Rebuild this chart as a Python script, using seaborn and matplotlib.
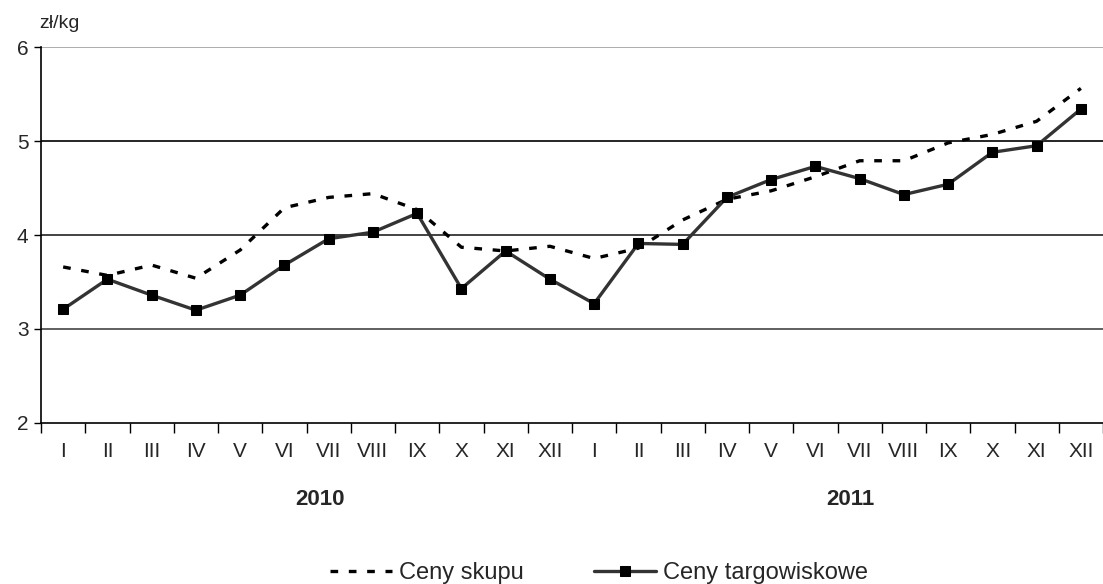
import matplotlib
matplotlib.use("Agg")
import matplotlib.pyplot as plt
import matplotlib.transforms as mtransforms
import seaborn as sns
import pandas as pd
import numpy as np

months = ["I", "II", "III", "IV", "V", "VI", "VII", "VIII", "IX", "X", "XI", "XII"] * 2
years = ["2010", "2011"]
ceny_skupu = [3.66, 3.57, 3.68, 3.54, 3.84, 4.29, 4.40, 4.44, 4.27, 3.87, 3.83, 3.88,
              3.75, 3.86, 4.16, 4.38, 4.47, 4.62, 4.79, 4.79, 4.98, 5.07, 5.21, 5.56]
ceny_targ = [3.21, 3.53, 3.36, 3.20, 3.36, 3.68, 3.96, 4.03, 4.23, 3.43, 3.83, 3.53,
             3.27, 3.91, 3.90, 4.40, 4.59, 4.73, 4.60, 4.43, 4.54, 4.88, 4.95, 5.34]
yticks = [2, 3, 4, 5, 6]

sns.set_theme(style="white")
plt.rcParams['font.family'] = ['Liberation Sans', 'DejaVu Sans']

df = pd.DataFrame({
    "x": list(range(len(months))) * 2,
    "value": ceny_skupu + ceny_targ,
    "series": ["Ceny skupu"] * len(months) + ["Ceny targowiskowe"] * len(months),
})

fig = plt.figure(figsize=(11.03, 5.84), dpi=100)
ax = fig.add_axes([0.0372, 0.2757, 0.9628, 0.6438])

grid_colors = {3: "#444444", 4: "#222222", 5: "#000000", 6: "#a0a0a0"}
for v in yticks[1:]:
    ax.axhline(v, color=grid_colors[v], lw=1.2, zorder=0)

sns.lineplot(data=df[df.series == "Ceny skupu"], x="x", y="value", ax=ax,
             color="black", lw=2.4, linestyle=(0, (2.3, 3.2)), label="Ceny skupu",
             zorder=3)
sns.lineplot(data=df[df.series == "Ceny targowiskowe"], x="x", y="value", ax=ax,
             color="#333333", lw=2.4, marker="s", markersize=6.8,
             markerfacecolor="black", markeredgecolor="black",
             label="Ceny targowiskowe", zorder=4)

ax.set_xlim(-0.5, len(months) - 0.5)
ax.set_ylim(2, 6)
ax.set_yticks(yticks)
ax.set_yticklabels([str(v) for v in yticks], fontsize=15)
ax.set_xticks(range(len(months)))
ax.set_xticklabels(months, fontsize=15)
ax.set_xticks(np.arange(-0.5, len(months), 1.0), minor=True)
ax.tick_params(axis="x", which="major", length=0, pad=14)
ax.tick_params(axis="x", which="minor", length=7, width=1, color="black", direction="out", bottom=True)
ax.tick_params(axis="y", length=5, width=1, color="black", direction="out", left=True, pad=4)
ax.set_xlabel("")
ax.set_ylabel("")

for s in ["top", "right"]:
    ax.spines[s].set_visible(False)
for s in ["left", "bottom"]:
    ax.spines[s].set_color("black")
    ax.spines[s].set_linewidth(1.2)

fig.text(0.036, 0.960, "zł/kg", fontsize=14, ha="left", va="center")
trans = mtransforms.blended_transform_factory(ax.transData, fig.transFigure)
for i, yr in enumerate(years):
    ax.text(i * 12 + 5.8, 0.1455, yr, transform=trans,
            fontsize=16, fontweight="bold", ha="center", va="center")

ax.legend(loc="center", bbox_to_anchor=(0.543, 0.018), bbox_transform=fig.transFigure,
          ncol=2, frameon=False, fontsize=17, handlelength=2.6, columnspacing=3.0,
          handletextpad=0.3, borderpad=0, borderaxespad=0)

fig.savefig("out.png", dpi=100)
